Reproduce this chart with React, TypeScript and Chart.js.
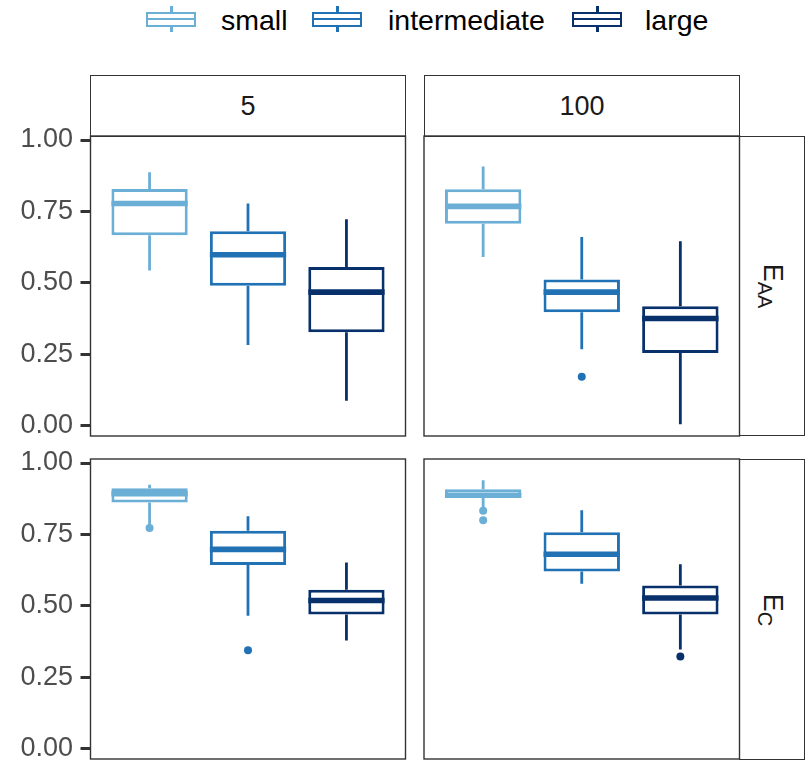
import React, { useEffect, useRef } from 'react';
import { Chart, registerables } from 'chart.js';

Chart.register(...registerables);

// ---- data ----
const GROUPS = ['small', 'intermediate', 'large'];
const GROUP_COLORS = ['#6baed6', '#2171b5', '#08306b'];
const COLUMN_LABELS = ['5', '100'];
const ROW_LABELS = [
  { main: 'E', sub: 'AA' },
  { main: 'E', sub: 'C' },
];
const Y_TICKS = [0, 0.25, 0.5, 0.75, 1.0];
const Y_TICK_LABELS = ['0.00', '0.25', '0.50', '0.75', '1.00'];
const Y_MIN = -0.035;
const Y_MAX = 1.014;

// per group: [lower whisker, Q1, median, Q3, upper whisker]
const EAA_5_STATS = [
  [0.544, 0.667, 0.778, 0.829, 0.887],
  [0.283, 0.49, 0.599, 0.681, 0.778],
  [0.088, 0.328, 0.468, 0.556, 0.723],
];
const EAA_5_OUTLIERS = [[], [], []];

const EAA_100_STATS = [
  [0.591, 0.707, 0.768, 0.828, 0.907],
  [0.268, 0.398, 0.468, 0.512, 0.661],
  [0.006, 0.255, 0.376, 0.419, 0.646],
];
const EAA_100_OUTLIERS = [[], [0.172], []];

const EC_5_STATS = [
  [0.785, 0.862, 0.893, 0.912, 0.924],
  [0.466, 0.643, 0.698, 0.763, 0.814],
  [0.379, 0.47, 0.519, 0.557, 0.652],
];
const EC_5_OUTLIERS = [[0.773], [0.345], []];

const EC_100_STATS = [
  [0.845, 0.882, 0.887, 0.908, 0.94],
  [0.578, 0.621, 0.681, 0.758, 0.835],
  [0.348, 0.47, 0.528, 0.572, 0.646],
];
const EC_100_OUTLIERS = [[0.833, 0.8], [], [0.323]];

const FONT = '"Liberation Sans", Arial, sans-serif';
const LINE_W = 3;

type PanelProps = {
  stats: number[][];
  outliers: number[][];
  showY: boolean;
  left: number;
  top: number;
  width: number;
  height: number;
  padding: { left: number; right: number; top: number; bottom: number };
};

function Panel({ stats, outliers, showY, left, top, width, height, padding }: PanelProps) {
  const ref = useRef<HTMLCanvasElement | null>(null);

  useEffect(() => {
    const canvas = ref.current;
    if (!canvas) return;

    const positions = stats.map((_, i) => i + 1);
    const boxData = stats.map((s, i) => ({ x: positions[i], y: [s[1], s[3]] }));
    const outlierPoints: { x: number; y: number }[] = [];
    const outlierColors: string[] = [];
    outliers.forEach((arr, i) =>
      arr.forEach((v) => {
        outlierPoints.push({ x: positions[i], y: v });
        outlierColors.push(GROUP_COLORS[i]);
      })
    );

    const boxPlugin = {
      id: 'boxplotExtras',
      beforeDatasetsDraw(chart: any) {
        const ctx = chart.ctx;
        const ys = chart.scales.y;
        const meta = chart.getDatasetMeta(0);
        stats.forEach((s, i) => {
          const el = meta.data[i];
          if (!el) return;
          ctx.save();
          ctx.strokeStyle = GROUP_COLORS[i];
          ctx.lineWidth = 2.8;
          ctx.beginPath();
          ctx.moveTo(el.x, ys.getPixelForValue(s[0]));
          ctx.lineTo(el.x, ys.getPixelForValue(s[1]));
          ctx.moveTo(el.x, ys.getPixelForValue(s[3]));
          ctx.lineTo(el.x, ys.getPixelForValue(s[4]));
          ctx.stroke();
          ctx.restore();
        });
      },
      afterDatasetDraw(chart: any, args: any) {
        if (args.index !== 0) return;
        const ctx = chart.ctx;
        const ys = chart.scales.y;
        const meta = chart.getDatasetMeta(0);
        stats.forEach((s, i) => {
          const el = meta.data[i];
          if (!el) return;
          const y = ys.getPixelForValue(s[2]);
          ctx.save();
          ctx.strokeStyle = GROUP_COLORS[i];
          ctx.lineWidth = 5.6;
          ctx.beginPath();
          ctx.moveTo(el.x - el.width / 2, y);
          ctx.lineTo(el.x + el.width / 2, y);
          ctx.stroke();
          ctx.restore();
        });
      },
      afterDraw(chart: any) {
        const { ctx, chartArea } = chart;
        ctx.save();
        ctx.strokeStyle = '#333333';
        ctx.lineWidth = 1.4;
        ctx.strokeRect(
          chartArea.left,
          chartArea.top,
          chartArea.right - chartArea.left,
          chartArea.bottom - chartArea.top
        );
        ctx.restore();
      },
    };

    const chart = new Chart(canvas, {
      type: 'bar',
      data: {
        datasets: [
          {
            type: 'bar',
            data: boxData as any,
            backgroundColor: '#ffffff',
            borderColor: GROUP_COLORS,
            borderWidth: LINE_W,
            borderSkipped: false,
            categoryPercentage: 1,
            barPercentage: 0.775,
            order: 2,
          } as any,
          {
            type: 'scatter',
            data: outlierPoints,
            pointRadius: 4,
            pointBackgroundColor: outlierColors,
            pointBorderColor: outlierColors,
            pointBorderWidth: 0,
            order: 1,
          } as any,
        ],
      },
      options: {
        animation: false,
        responsive: false,
        maintainAspectRatio: false,
        layout: { padding },
        plugins: {
          legend: { display: false },
          tooltip: { enabled: false },
        },
        scales: {
          x: {
            type: 'linear',
            min: 0.4,
            max: 3.6,
            offset: false,
            display: false,
            grid: { display: false },
            afterBuildTicks: (scale: any) => {
              scale.ticks = positions.map((v) => ({ value: v }));
            },
            afterFit: (scale: any) => {
              scale.height = 0;
              scale.paddingLeft = 0;
              scale.paddingRight = 0;
              scale.paddingTop = 0;
              scale.paddingBottom = 0;
            },
          },
          y: {
            type: 'linear',
            min: Y_MIN,
            max: Y_MAX,
            display: showY,
            afterFit: (scale: any) => {
              scale.width = showY ? 90.5 : 0;
              scale.paddingTop = 0;
              scale.paddingBottom = 0;
              scale.paddingLeft = 0;
              scale.paddingRight = 0;
            },
            afterBuildTicks: (scale: any) => {
              scale.ticks = Y_TICKS.map((v) => ({ value: v }));
            },
            border: { display: false },
            grid: {
              display: true,
              drawOnChartArea: false,
              drawTicks: true,
              tickLength: 10,
              tickWidth: 3,
              tickColor: '#333333',
            },
            ticks: {
              padding: 7.5,
              color: '#4d4d4d',
              font: { family: FONT, size: 27 },
              callback: (value: any) => {
                const idx = Y_TICKS.indexOf(Number(value));
                return idx >= 0 ? Y_TICK_LABELS[idx] : '';
              },
            },
          },
        },
      } as any,
      plugins: [boxPlugin],
    });

    return () => chart.destroy();
  }, [stats, outliers, showY]);

  return (
    <canvas
      ref={ref}
      width={width}
      height={height}
      style={{ position: 'absolute', left, top, width, height }}
    />
  );
}

function TopStrip({ left, label }: { left: number; label: string }) {
  return (
    <div
      style={{
        position: 'absolute',
        left,
        top: 75,
        width: 316,
        height: 62,
        border: '1.4px solid #333333',
        boxSizing: 'border-box',
        background: '#ffffff',
        display: 'flex',
        alignItems: 'center',
        justifyContent: 'center',
        fontFamily: FONT,
        fontSize: 27,
        color: '#1a1a1a',
      }}
    >
      {label}
    </div>
  );
}

function RightStrip({ top, height, main, sub }: { top: number; height: number; main: string; sub: string }) {
  return (
    <div
      style={{
        position: 'absolute',
        left: 739,
        top,
        width: 66,
        height,
        border: '1.4px solid #333333',
        boxSizing: 'border-box',
        background: '#ffffff',
      }}
    >
      <div
        style={{
          position: 'absolute',
          left: '50%',
          top: '50%',
          transform: 'translate(-50%, -50%) rotate(90deg)',
          whiteSpace: 'nowrap',
          fontFamily: FONT,
          fontSize: 27,
          lineHeight: 1,
          color: '#1a1a1a',
        }}
      >
        {main}
        <span style={{ fontSize: 20, position: 'relative', top: 6 }}>{sub}</span>
      </div>
    </div>
  );
}

function LegendIcon({ left, color }: { left: number; color: string }) {
  return (
    <div style={{ position: 'absolute', left, top: 6, width: 50, height: 26 }}>
      <div
        style={{
          position: 'absolute',
          left: 24,
          top: 0,
          width: 2.5,
          height: 26,
          background: color,
        }}
      />
      <div
        style={{
          position: 'absolute',
          left: 0,
          top: 5.5,
          width: 50,
          height: 15,
          border: `2.5px solid ${color}`,
          boxSizing: 'border-box',
          background: '#ffffff',
        }}
      />
      <div
        style={{
          position: 'absolute',
          left: 0,
          top: 11.8,
          width: 50,
          height: 2.5,
          background: color,
        }}
      />
    </div>
  );
}

const LEGEND_ICON_X = [146, 312, 572];
const LEGEND_TEXT_X = [221, 388, 645];

export default function App() {
  useEffect(() => {
    document.body.style.margin = '0';
  }, []);

  return (
    <div
      style={{
        position: 'absolute',
        left: 0,
        top: 0,
        width: 808,
        height: 765,
        background: '#ffffff',
        overflow: 'hidden',
        fontFamily: FONT,
      }}
    >
      {GROUPS.map((g, i) => (
        <React.Fragment key={g}>
          <LegendIcon left={LEGEND_ICON_X[i]} color={GROUP_COLORS[i]} />
          <div
            style={{
              position: 'absolute',
              left: LEGEND_TEXT_X[i],
              top: 6,
              fontSize: 28.5,
              lineHeight: '28px',
              color: '#000000',
              whiteSpace: 'nowrap',
            }}
          >
            {g}
          </div>
        </React.Fragment>
      ))}

      <TopStrip left={90} label={COLUMN_LABELS[0]} />
      <TopStrip left={424} label={COLUMN_LABELS[1]} />
      <RightStrip top={136} height={300} main={ROW_LABELS[0].main} sub={ROW_LABELS[0].sub} />
      <RightStrip top={459} height={301} main={ROW_LABELS[1].main} sub={ROW_LABELS[1].sub} />

      <Panel
        stats={EAA_5_STATS}
        outliers={EAA_5_OUTLIERS}
        showY={true}
        left={0}
        top={111}
        width={410}
        height={330}
        padding={{ left: 0, right: 4.5, top: 25, bottom: 5 }}
      />
      <Panel
        stats={EAA_100_STATS}
        outliers={EAA_100_OUTLIERS}
        showY={false}
        left={420}
        top={131}
        width={324}
        height={310}
        padding={{ left: 4, right: 4.5, top: 5, bottom: 5 }}
      />
      <Panel
        stats={EC_5_STATS}
        outliers={EC_5_OUTLIERS}
        showY={true}
        left={0}
        top={441}
        width={410}
        height={324}
        padding={{ left: 0, right: 4.5, top: 18, bottom: 6 }}
      />
      <Panel
        stats={EC_100_STATS}
        outliers={EC_100_OUTLIERS}
        showY={false}
        left={420}
        top={454}
        width={324}
        height={311}
        padding={{ left: 4, right: 4.5, top: 5, bottom: 6 }}
      />
    </div>
  );
}
